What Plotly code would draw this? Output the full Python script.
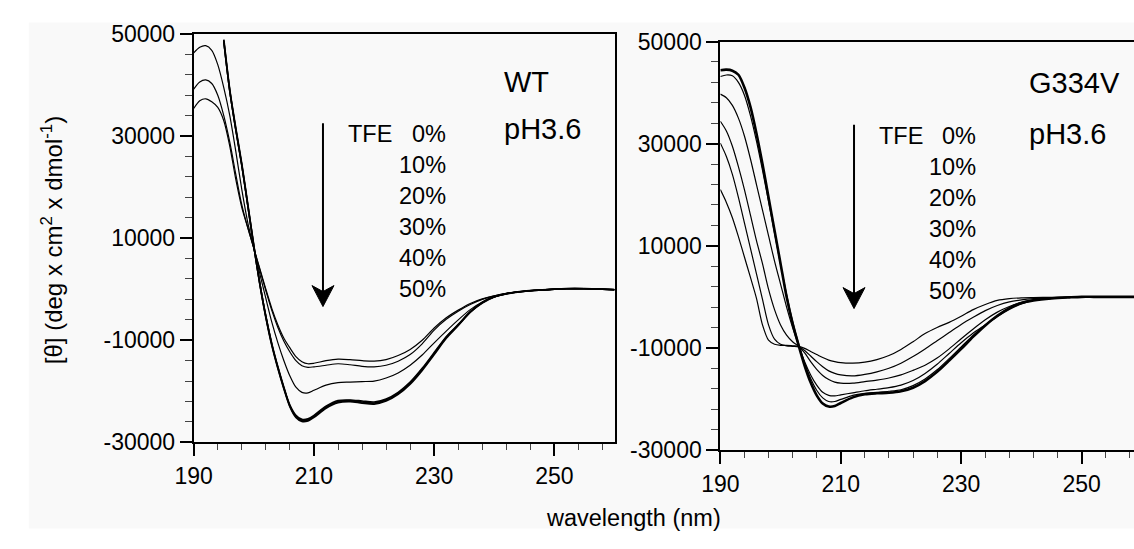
import plotly.graph_objects as go

# ---------------- data ----------------
wavelength = [190, 191, 192, 193, 194, 195, 196, 197, 198, 199, 200, 201, 202, 203, 204, 205,
              206, 207, 208, 209, 210, 212, 214, 216, 218, 220, 222, 224, 226, 228, 230, 232,
              234, 236, 238, 240, 242, 245, 248, 250, 252, 255, 258, 260]

N = None
# WT, pH 3.6
wt_0 = [35400, 36900, 37300, 36700, 35600, 33000, 28000, 21500, 16000, 12000, 8000, 4000, 0, -3800,
        -7000, -9600, -11500, -13200, -14200, -14600, -14500, -14000, -13700, -13800, -14000, -14100,
        -13800, -13000, -11800, -10000, -7600, -5600, -4100, -2800, -1900, -1300, -800, -400, -150,
        0, 100, 100, 0, -100]
wt_10 = [39200, 40600, 41000, 40300, 38000, 34000, 28800, 22500, 16500, 12000, 8000, 3800, -300, -4200,
         -7500, -10200, -12300, -14000, -15000, -15300, -15200, -14900, -14600, -14800, -15100, -15200,
         -14900, -14100, -12800, -10700, -8000, -5900, -4300, -3000, -2000, -1300, -800, -400, -150,
         0, 100, 100, 0, -100]
wt_20 = [46300, 47400, 47700, 46800, 44000, 39500, 34000, 27000, 19500, 13000, 8000, 3000, -1800, -6500,
         -10500, -14000, -17000, -19200, -20200, -20300, -19800, -18800, -18300, -18200, -18100, -18000,
         -17400, -16400, -14900, -12900, -10500, -8200, -6000, -4000, -2500, -1500, -900, -400, -150,
         0, 100, 100, 0, -100]
wt_30 = [N, N, N, N, N, 48500, 38800, 31200, 24200, 16300, 8400, 1100, -5300, -10700,
         -15200, -19200, -22700, -24700, -25500, -25400, -24700, -22900, -21800, -21700, -21900, -22100,
         -21500, -20200, -18200, -15500, -12400, -9300, -6900, -4400, -2600, -1500, -900, -400, -150,
         0, 100, 100, 0, -100]
wt_40 = [N, N, N, N, N, 48700, 38900, 31300, 24300, 16400, 8400, 1000, -5400, -10900,
         -15400, -19400, -22900, -24900, -25700, -25600, -24900, -23100, -22000, -21800, -22100, -22300,
         -21700, -20400, -18400, -15700, -12600, -9400, -7000, -4500, -2600, -1500, -900, -400, -150,
         0, 100, 100, 0, -100]
wt_50 = [N, N, N, N, N, 48900, 39000, 31500, 24500, 16500, 8500, 1000, -5500, -11000,
         -15500, -19500, -23000, -25100, -25900, -25800, -25100, -23300, -22200, -22000, -22300, -22500,
         -21900, -20600, -18600, -15900, -12800, -9600, -7100, -4500, -2700, -1500, -900, -400, -150,
         0, 100, 100, 0, -100]

# G334V, pH 3.6
gv_0 = [21000, 18500, 15500, 11800, 7800, 3800, -300, -5500, -8500, -9300, -9500, -9500, -9600, -9700,
        -10100, -10700, -11300, -11900, -12400, -12700, -12900, -13000, -12800, -12300, -11500, -10300,
        -8800, -7200, -6000, -5000, -3800, -2500, -1500, -700, -350, -200, -150, -100, -50,
        0, 0, 0, 0, 0]
gv_10 = [30100, 27500, 24000, 19500, 14500, 9500, 4500, -500, -5500, -8300, -9300, -9600, -9700, -9800,
         -10500, -11600, -12700, -13700, -14500, -15000, -15300, -15500, -15200, -14700, -14000, -13000,
         -11700, -10200, -8600, -7000, -5400, -4000, -2700, -1700, -1000, -600, -350, -150, -50,
         0, 0, 0, 0, 0]
gv_20 = [34400, 32500, 29500, 25500, 21000, 16000, 11000, 6500, 1500, -2500, -5500, -7500, -8800, -9700,
         -11000, -12700, -14200, -15400, -16200, -16700, -16900, -16900, -16600, -16300, -15900, -15300,
         -14400, -13400, -12000, -10200, -8200, -6300, -4500, -3000, -1900, -1100, -600, -250, -100,
         0, 0, 0, 0, 0]
gv_30 = [39700, 39000, 37500, 35000, 31500, 27000, 22000, 17000, 12000, 7000, 2500, -2000, -6000, -9500,
         -12700, -15300, -17300, -18700, -19300, -19400, -19200, -18800, -18400, -18100, -17800, -17300,
         -16400, -15000, -13200, -11100, -9000, -7100, -5500, -3900, -2500, -1400, -700, -300, -100,
         0, 0, 0, 0, 0]
gv_40 = [43150, 43450, 43300, 42000, 39500, 35500, 30500, 24800, 18700, 12500, 6300, 500, -4800, -9200,
         -13000, -16000, -18300, -19800, -20500, -20500, -20100, -19300, -18900, -18700, -18500, -18200,
         -17400, -16100, -14300, -12100, -9800, -7500, -5500, -3700, -2300, -1300, -700, -300, -100,
         0, 0, 0, 0, 0]
gv_50 = [44400, 44500, 44300, 43500, 41000, 37200, 32000, 26000, 19500, 13000, 6500, 0, -5200, -9500,
         -13500, -16800, -19300, -20900, -21500, -21400, -20800, -19700, -19100, -18900, -18800, -18500,
         -17800, -16500, -14700, -12500, -10200, -7800, -5600, -3700, -2200, -1200, -700, -300, -100,
         0, 0, 0, 0, 0]

tfe_labels = ["0%", "10%", "20%", "30%", "40%", "50%"]
x_tick_vals = [190, 210, 230, 250]
y_tick_vals = [-30000, -10000, 10000, 30000, 50000]

# ---------------- figure ----------------
W, H = 1134, 549
FONT = "Liberation Sans, Arial, sans-serif"


def px_x(p):
    return p / W


def px_y(p):
    return 1 - p / H


fig = go.Figure()

wt_series = [(wt_0, 1.2), (wt_10, 1.2), (wt_20, 1.2), (wt_30, 1.6), (wt_40, 1.6), (wt_50, 1.8)]
for ys, w in wt_series:
    fig.add_trace(go.Scatter(x=wavelength, y=ys, mode="lines", xaxis="x", yaxis="y",
                             line=dict(color="black", width=w, shape="spline", smoothing=0.8),
                             showlegend=False, hoverinfo="skip"))

gv_series = [(gv_0, 1.2), (gv_10, 1.2), (gv_20, 1.2), (gv_30, 1.2), (gv_40, 1.2), (gv_50, 2.6)]
for ys, w in gv_series:
    fig.add_trace(go.Scatter(x=wavelength, y=ys, mode="lines", xaxis="x2", yaxis="y2",
                             line=dict(color="black", width=w, shape="spline", smoothing=0.8),
                             showlegend=False, hoverinfo="skip"))

tickfont = dict(family=FONT, size=23, color="black")


def xaxis_cfg(domain, rng, mirror):
    return dict(domain=domain, range=rng, showline=True, linecolor="black", linewidth=2,
                mirror=mirror, ticks="outside", ticklen=12, tickwidth=1.5, tickcolor="black",
                tickmode="array", tickvals=x_tick_vals, ticktext=[str(v) for v in x_tick_vals],
                minor=dict(tickmode="array", tickvals=list(range(190, 262, 4)), ticks="outside",
                           ticklen=6, tickwidth=1, tickcolor="#444"),
                tickfont=tickfont, showgrid=False, zeroline=False, fixedrange=True)


def yaxis_cfg(domain, anchor, mirror):
    return dict(domain=domain, range=[-30000, 50000], anchor=anchor, showline=True,
                linecolor="black", linewidth=2, mirror=mirror, ticks="outside", ticklen=12,
                tickwidth=1.5, tickcolor="black", tickmode="array", tickvals=y_tick_vals,
                ticktext=[str(v) for v in y_tick_vals],
                minor=dict(tickmode="array", tickvals=list(range(-30000, 50001, 4000)),
                           ticks="outside", ticklen=7, tickwidth=1, tickcolor="#444"),
                tickfont=tickfont, showgrid=False, zeroline=False, fixedrange=True)


# arrows (shaft + pixel-sized head), anchored in each panel
def arrow_shapes(xr, yr, x, y_tail, y_tip, px_per_unit):
    notch = y_tip + 14 * px_per_unit
    return [
        dict(type="line", xref=xr, yref=yr, x0=x, x1=x, y0=y_tail, y1=notch,
             line=dict(color="black", width=2)),
        dict(type="path", xref=xr, yref=yr, xsizemode="pixel", ysizemode="pixel",
             xanchor=x, yanchor=y_tip, path="M0,0 L-11,21 L0,15 L11,21 Z",
             fillcolor="black", line=dict(color="black", width=1)),
    ]


units_per_px = 80000 / 428.7
shapes = [dict(type="rect", xref="paper", yref="paper", x0=px_x(10), x1=1.0,
               y0=px_y(541), y1=px_y(10), fillcolor="#f9f9f9", line=dict(width=0),
               layer="below")]
shapes += arrow_shapes("x", "y", 211.5, 32500, -3400, units_per_px)
shapes += arrow_shapes("x2", "y2", 212.2, 33700, -2300, units_per_px)

fig.update_layout(
    width=W, height=H,
    margin=dict(l=0, r=0, t=0, b=0),
    paper_bgcolor="white",
    plot_bgcolor="rgba(0,0,0,0)",
    font=dict(family=FONT, color="black"),
    xaxis=dict(xaxis_cfg([px_x(177.7), px_x(605.7)], [190, 260], True), anchor="y"),
    yaxis=yaxis_cfg([px_y(450.7), px_y(22)], "x", True),
    xaxis2=dict(xaxis_cfg([px_x(713.3), 1.0], [190, 258.7], True), anchor="y2"),
    yaxis2=yaxis_cfg([px_y(458.7), px_y(30)], "x2", False),
    shapes=shapes,
)

ann = []
# axis titles
ann.append(dict(text="[θ] (deg x cm<sup>2</sup> x dmol<sup>-1</sup>)", xref="paper", yref="paper",
                x=px_x(33), y=px_y(238), textangle=-90, showarrow=False,
                font=dict(family=FONT, size=24), xanchor="center", yanchor="middle"))
ann.append(dict(text="wavelength (nm)", xref="paper", yref="paper", x=px_x(625), y=px_y(530),
                showarrow=False, font=dict(family=FONT, size=23.5), xanchor="center", yanchor="middle"))

# panel labels
big = dict(family=FONT, size=29)
ann.append(dict(text="WT", xref="paper", yref="paper", x=px_x(491), y=px_y(72), showarrow=False,
                font=big, xanchor="left", yanchor="middle"))
ann.append(dict(text="pH3.6", xref="paper", yref="paper", x=px_x(491), y=px_y(122), showarrow=False,
                font=big, xanchor="left", yanchor="middle"))
ann.append(dict(text="G334V", xref="paper", yref="paper", x=px_x(1025), y=px_y(73), showarrow=False,
                font=big, xanchor="left", yanchor="middle"))
ann.append(dict(text="pH3.6", xref="paper", yref="paper", x=px_x(1025), y=px_y(127), showarrow=False,
                font=big, xanchor="left", yanchor="middle"))

mid = dict(family=FONT, size=23.5)
ann.append(dict(text="TFE", xref="paper", yref="paper", x=px_x(333), y=px_y(127), showarrow=False,
                font=mid, xanchor="left", yanchor="middle"))
ann.append(dict(text="TFE", xref="paper", yref="paper", x=px_x(873), y=px_y(129), showarrow=False,
                font=mid, xanchor="left", yanchor="middle"))
for i, lab in enumerate(tfe_labels):
    ann.append(dict(text=lab, xref="paper", yref="paper", x=px_x(436), y=px_y(127 + 32.5 * i),
                    showarrow=False, font=mid, xanchor="right", yanchor="middle"))
    ann.append(dict(text=lab, xref="paper", yref="paper", x=px_x(975), y=px_y(129.5 + 32.4 * i),
                    showarrow=False, font=mid, xanchor="right", yanchor="middle"))

fig.update_layout(annotations=ann)

fig.write_html("out.html", config={"displayModeBar": False},
               post_script="document.body.style.margin='0';document.body.style.padding='0';")
